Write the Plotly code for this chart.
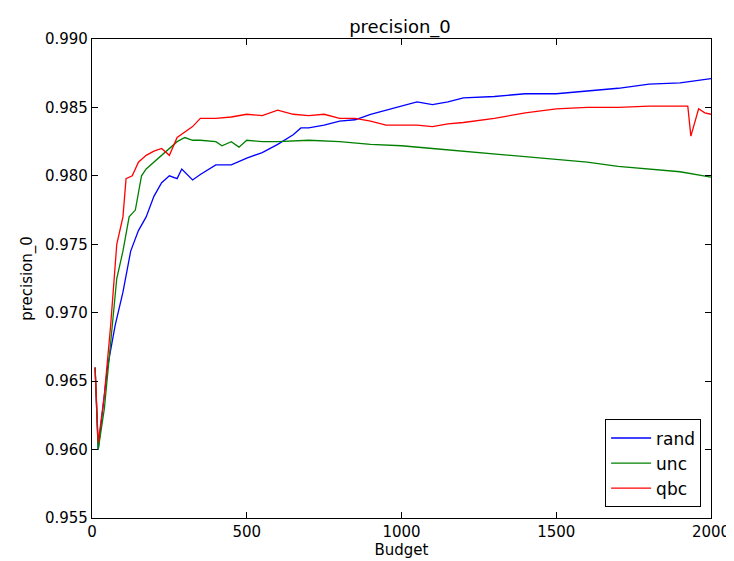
import plotly.graph_objects as go

rand_x = [10, 20, 50, 75, 100, 125, 150, 175, 200, 225, 250, 275, 290, 325, 350, 400, 450, 500, 550,
          600, 650, 675, 700, 750, 800, 850, 900, 950, 1000, 1050, 1100, 1150, 1200, 1300, 1400, 1500,
          1600, 1700, 1800, 1900, 2000]
rand_y = [0.966, 0.960, 0.966, 0.9691, 0.9715, 0.9745, 0.976, 0.977, 0.9785, 0.9795, 0.980, 0.9798,
          0.9805, 0.9797, 0.9801, 0.9808, 0.9808, 0.9813, 0.9817, 0.9823, 0.9830, 0.9835, 0.9835,
          0.9837, 0.9840, 0.9841, 0.9845, 0.9848, 0.9851, 0.9854, 0.9852, 0.9854, 0.9857, 0.9858,
          0.9860, 0.9860, 0.9862, 0.9864, 0.9867, 0.9868, 0.9871]

unc_x = [10, 20, 40, 60, 80, 100, 120, 140, 160, 175, 200, 225, 250, 275, 300, 325, 350, 400, 420,
         450, 475, 500, 550, 600, 700, 800, 900, 1000, 1100, 1200, 1300, 1400, 1500, 1600, 1700,
         1800, 1900, 2000]
unc_y = [0.966, 0.960, 0.963, 0.968, 0.9725, 0.9745, 0.977, 0.9775, 0.980, 0.9805, 0.981, 0.9815,
         0.982, 0.9825, 0.9828, 0.9826, 0.9826, 0.9825, 0.9822, 0.9825, 0.9821, 0.9826, 0.9825,
         0.9825, 0.9826, 0.9825, 0.9823, 0.9822, 0.9820, 0.9818, 0.9816, 0.9814, 0.9812, 0.9810,
         0.9807, 0.9805, 0.9803, 0.9799]

qbc_x = [10, 20, 40, 60, 80, 100, 110, 130, 150, 175, 200, 225, 250, 275, 300, 325, 350, 400, 450,
         500, 550, 600, 650, 700, 750, 800, 850, 900, 950, 1000, 1050, 1100, 1150, 1200, 1300, 1400,
         1500, 1600, 1700, 1800, 1900, 1925, 1935, 1960, 1980, 2000]
qbc_y = [0.966, 0.9605, 0.964, 0.969, 0.975, 0.977, 0.9798, 0.980, 0.981, 0.9815, 0.9818, 0.9820,
         0.9815, 0.9828, 0.9832, 0.9836, 0.9842, 0.9842, 0.9843, 0.9845, 0.9844, 0.9848, 0.9845,
         0.9844, 0.9845, 0.9842, 0.9842, 0.9840, 0.9837, 0.9837, 0.9837, 0.9836, 0.9838, 0.9839,
         0.9842, 0.9846, 0.9849, 0.9850, 0.9850, 0.9851, 0.9851, 0.9851, 0.9829, 0.9849, 0.9846,
         0.9845]

fig = go.Figure()
fig.add_trace(go.Scatter(x=rand_x, y=rand_y, mode="lines", name="rand", line=dict(color="#0000ff", width=1.3)))
fig.add_trace(go.Scatter(x=unc_x, y=unc_y, mode="lines", name="unc", line=dict(color="#008000", width=1.3)))
fig.add_trace(go.Scatter(x=qbc_x, y=qbc_y, mode="lines", name="qbc", line=dict(color="#ff0000", width=1.3)))

axis = dict(showgrid=False, zeroline=False, showline=True, linecolor="black", linewidth=1.2,
            mirror="ticks", ticks="inside", ticklen=6, tickcolor="black", automargin=False,
            tickfont=dict(size=15, color="black"))

fig.update_layout(
    width=734, height=561,
    margin=dict(l=84, r=31, t=31, b=51),
    paper_bgcolor="white", plot_bgcolor="white",
    font=dict(family="DejaVu Sans", color="black"),
    title=dict(text="precision_0", x=0.534, xanchor="center", y=0.966, yanchor="middle",
               font=dict(size=18)),
    xaxis=dict(axis, range=[0, 2000], tickvals=[0, 500, 1000, 1500, 2000],
               title=dict(text="Budget", font=dict(size=15), standoff=2)),
    yaxis=dict(axis, range=[0.955, 0.990], dtick=0.005, tickformat=".3f",
               title=dict(text="precision_0", font=dict(size=15), standoff=8)),
    legend=dict(x=0.984, y=0.022, xanchor="right", yanchor="bottom",
                bordercolor="black", borderwidth=1, bgcolor="white",
                font=dict(size=17), itemwidth=40, tracegroupgap=0),
)

fig.write_html("out.html")
